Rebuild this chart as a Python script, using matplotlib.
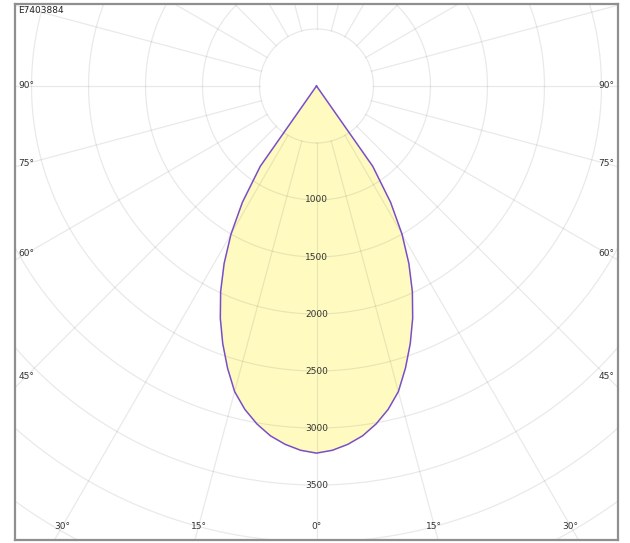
import numpy as np
import matplotlib
matplotlib.use("Agg")
import matplotlib.pyplot as plt

# Luminous intensity distribution (cd), symmetric about nadir (0°)
angles_deg = [0, 2.5, 5, 7.5, 10, 12.5, 15, 17.5, 20, 22.5, 25, 27.5,
              30, 32.5, 35, 37.5, 40, 90]
intensity_cd = [3220, 3198, 3155, 3095, 3010, 2905, 2775, 2595, 2405, 2205,
                1990, 1755, 1500, 1210, 860, 0, 0, 0]

ring_values = [500, 1000, 1500, 2000, 2500, 3000, 3500, 4000, 4500, 5000]
ring_labels = [1000, 1500, 2000, 2500, 3000, 3500]
spoke_angles = list(range(0, 360, 15))
side_label_angles = [90, 75, 60, 45]
bottom_label_angles = [-30, -15, 0, 15, 30]
luminaire_code = "E7403884"

text_color = "#333333"
fill_color = "#fffbc0"
line_color = "#7a4ec6"

fig = plt.figure(figsize=(6.3, 5.43), dpi=100)
ax = fig.add_axes([15 / 630, 3 / 543, 603 / 630, 536 / 543])
ax.set_xlim(-2645, 2645)
ax.set_ylim(-3982, 719)
ax.set_xticks([])
ax.set_yticks([])
for sp in ax.spines.values():
    sp.set_color("#8f8f8f")
    sp.set_linewidth(1.6)


def to_xy(theta_deg, r):
    t = np.radians(theta_deg)
    return np.asarray(r) * np.sin(t), -np.asarray(r) * np.cos(t)


# Intensity curve, mirrored to both sides of nadir
a = np.array(angles_deg, dtype=float)
r = np.array(intensity_cd, dtype=float)
theta_full = np.concatenate([-a[::-1], a[1:]])
r_full = np.concatenate([r[::-1], r[1:]])
cx, cy = to_xy(theta_full, r_full)
ax.fill(cx, cy, color=fill_color, zorder=1, lw=0)

# Polar grid: rings and 15° spokes starting at the innermost ring
t = np.linspace(0, 360, 721)
for rv in ring_values:
    gx, gy = to_xy(t, rv)
    ax.plot(gx, gy, color="0.4", alpha=0.14, lw=0.9, zorder=2)
for sa in spoke_angles:
    sx, sy = to_xy(np.array([sa, sa]), np.array([ring_values[0], 8000]))
    ax.plot(sx, sy, color="0.4", alpha=0.14, lw=0.9, zorder=2)

ax.plot(cx, cy, color=line_color, lw=1.1, zorder=3, solid_joinstyle="round")

# Ring value labels along the nadir
for rv in ring_labels:
    ax.text(0, -rv, str(rv), ha="center", va="center", fontsize=6.5,
            color=text_color, zorder=4)

# Angle labels where the spokes meet the frame
side_x = 2544
for ang in side_label_angles:
    y = -side_x * np.cos(np.radians(ang)) / np.sin(np.radians(ang))
    ax.text(-side_x, y, f"{ang}°", ha="center", va="center", fontsize=6.5,
            color=text_color, zorder=4)
    ax.text(side_x, y, f"{ang}°", ha="center", va="center", fontsize=6.5,
            color=text_color, zorder=4)

bottom_y = -3860
for ang in bottom_label_angles:
    x = -bottom_y * np.tan(np.radians(ang))
    ax.text(x, bottom_y, f"{abs(ang)}°", ha="center", va="center",
            fontsize=6.5, color=text_color, zorder=4)

ax.text(0.006, 0.997, luminaire_code, transform=ax.transAxes, ha="left",
        va="top", fontsize=6.5, color="#222222", zorder=4)

fig.savefig("out.png", dpi=100)
